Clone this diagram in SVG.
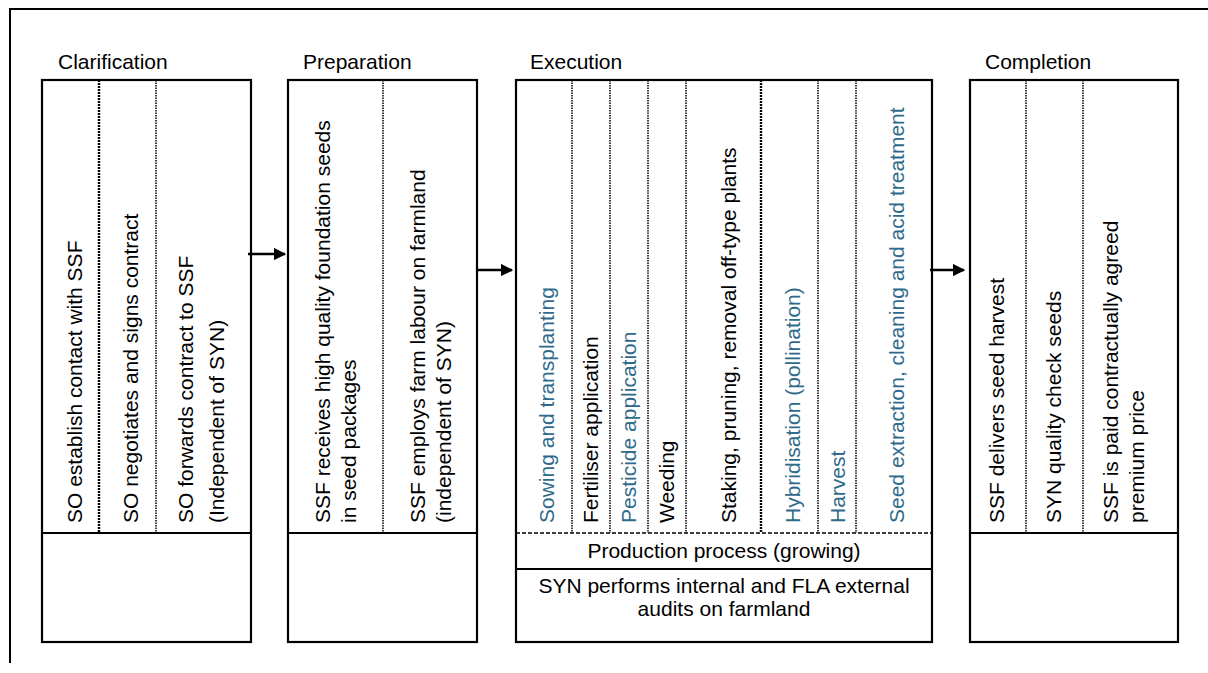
<svg xmlns="http://www.w3.org/2000/svg" width="1208" height="673" viewBox="0 0 1208 673">
  <style>
    .frame { fill: none; stroke: #000; stroke-width: 2; }
    .box { fill: #fff; stroke: #000; stroke-width: 2.2; }
    .rule { stroke: #000; stroke-width: 2.2; }
    .dot-heavy { stroke: #000; stroke-width: 2.4; stroke-dasharray: 2 1; }
    .dot-light { stroke: #000; stroke-width: 1.5; stroke-dasharray: 1.5 1; }
    .dash { stroke: #000; stroke-width: 1.5; stroke-dasharray: 4 2; }
    text { font-family: "Liberation Sans", Arial, sans-serif; font-size: 21px; fill: #000; }
    .blue { fill: #2f6a8a; }
    .mid { text-anchor: middle; }
    .arrow { stroke: #000; stroke-width: 2.5; fill: none; }
  </style>
  <defs>
    <marker id="head" viewBox="0 0 10 10" refX="9" refY="5" markerWidth="5" markerHeight="5" orient="auto" markerUnits="strokeWidth">
      <path d="M0,0 L10,5 L0,10 z" fill="#000"/>
    </marker>
  </defs>

  <!-- outer frame: top and left edges -->
  <path class="frame" d="M10,663 L10,9 L1208,9"/>

  <!-- Clarification -->
  <g id="clarification">
    <text x="58" y="69">Clarification</text>
    <rect class="box" x="42" y="80" width="209" height="562"/>
    <line class="rule" x1="42" y1="533" x2="251" y2="533"/>
    <line class="dot-heavy" x1="99" y1="80" x2="99" y2="533"/>
    <line class="dot-light" x1="156" y1="80" x2="156" y2="533"/>
    <text transform="translate(82,523) rotate(-90)">SO establish contact with SSF</text>
    <text transform="translate(138,523) rotate(-90)">SO negotiates and signs contract</text>
    <text transform="translate(193,523) rotate(-90)">SO forwards contract to SSF</text>
    <text transform="translate(224,523) rotate(-90)">(Independent of SYN)</text>
  </g>

  <!-- Preparation -->
  <g id="preparation">
    <text x="303" y="69">Preparation</text>
    <rect class="box" x="288" y="80" width="189" height="562"/>
    <line class="rule" x1="288" y1="533" x2="477" y2="533"/>
    <line class="dot-light" x1="383" y1="80" x2="383" y2="533"/>
    <text transform="translate(330,523) rotate(-90)">SSF receives high quality foundation seeds</text>
    <text transform="translate(356,523) rotate(-90)">in seed packages</text>
    <text transform="translate(425,523) rotate(-90)">SSF employs farm labour on farmland</text>
    <text transform="translate(451,523) rotate(-90)">(independent of SYN)</text>
  </g>

  <!-- Execution -->
  <g id="execution">
    <text x="530" y="69">Execution</text>
    <rect class="box" x="516" y="80" width="416" height="562"/>
    <line class="dot-light" x1="572" y1="80" x2="572" y2="533"/>
    <line class="dot-light" x1="610" y1="80" x2="610" y2="533"/>
    <line class="dot-light" x1="648" y1="80" x2="648" y2="533"/>
    <line class="dot-light" x1="686" y1="80" x2="686" y2="533"/>
    <line class="dot-heavy" x1="761" y1="80" x2="761" y2="533"/>
    <line class="dot-light" x1="818" y1="80" x2="818" y2="533"/>
    <line class="dot-light" x1="856" y1="80" x2="856" y2="533"/>
    <line class="dash" x1="516" y1="533" x2="932" y2="533"/>
    <line class="rule" x1="516" y1="569" x2="932" y2="569"/>
    <text class="blue" transform="translate(554,523) rotate(-90)">Sowing and transplanting</text>
    <text transform="translate(598,523) rotate(-90)">Fertiliser application</text>
    <text class="blue" transform="translate(636,523) rotate(-90)">Pesticide application</text>
    <text transform="translate(674,523) rotate(-90)">Weeding</text>
    <text transform="translate(736,523) rotate(-90)">Staking, pruning, removal off-type plants</text>
    <text class="blue" transform="translate(800,523) rotate(-90)">Hybridisation (pollination)</text>
    <text class="blue" transform="translate(845,523) rotate(-90)">Harvest</text>
    <text class="blue" transform="translate(904,523) rotate(-90)">Seed extraction, cleaning and acid treatment</text>
    <text class="mid" x="724" y="558">Production process (growing)</text>
    <text class="mid" x="724" y="593">SYN performs internal and FLA external</text>
    <text class="mid" x="724" y="616">audits on farmland</text>
  </g>

  <!-- Completion -->
  <g id="completion">
    <text x="985" y="69">Completion</text>
    <rect class="box" x="970" y="80" width="208" height="562"/>
    <line class="rule" x1="970" y1="533" x2="1178" y2="533"/>
    <line class="dot-light" x1="1026" y1="80" x2="1026" y2="533"/>
    <line class="dot-light" x1="1083" y1="80" x2="1083" y2="533"/>
    <text transform="translate(1004,523) rotate(-90)">SSF delivers seed harvest</text>
    <text transform="translate(1061,523) rotate(-90)">SYN quality check seeds</text>
    <text transform="translate(1118,523) rotate(-90)">SSF is paid contractually agreed</text>
    <text transform="translate(1144,523) rotate(-90)">premium price</text>
  </g>

  <!-- connectors between phases -->
  <g id="connectors">
    <line class="arrow" x1="248" y1="254" x2="285" y2="254" marker-end="url(#head)"/>
    <line class="arrow" x1="476" y1="270" x2="512" y2="270" marker-end="url(#head)"/>
    <line class="arrow" x1="930" y1="270" x2="964" y2="270" marker-end="url(#head)"/>
  </g>
</svg>
